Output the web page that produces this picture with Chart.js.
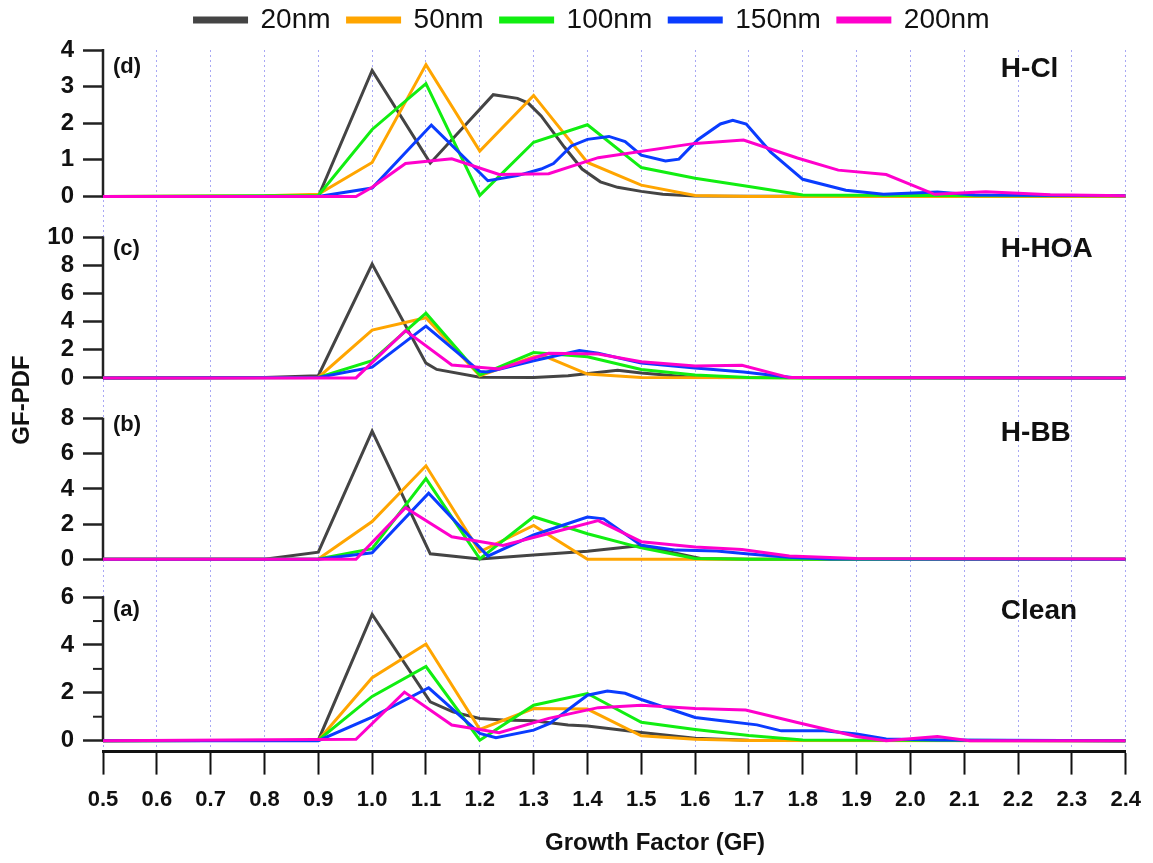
<!DOCTYPE html>
<html>
<head>
<meta charset="utf-8">
<script src="https://cdn.jsdelivr.net/npm/chart.js@4.4.1/dist/chart.umd.min.js"></script>
<style>
html,body{margin:0;padding:0;background:#ffffff;}
#wrap{width:1153px;height:863px;position:relative;}
</style>
</head>
<body>
<div id="wrap"><canvas id="chart" width="1153" height="863"></canvas></div>
<script>
// ---------------- DATA ----------------
const SIZES = ['20nm', '50nm', '100nm', '150nm', '200nm'];
const PANEL_NAMES = ['H-Cl', 'H-HOA', 'H-BB', 'Clean'];
const PANEL_TAGS = ['(d)', '(c)', '(b)', '(a)'];
const GF_TICKS = [0.5, 0.6, 0.7, 0.8, 0.9, 1.0, 1.1, 1.2, 1.3, 1.4, 1.5, 1.6, 1.7, 1.8, 1.9, 2.0, 2.1, 2.2, 2.3, 2.4];
const YTICKS_D = [0, 1, 2, 3, 4];
const YTICKS_C = [0, 2, 4, 6, 8, 10];
const YTICKS_B = [0, 2, 4, 6, 8];
const YTICKS_A = [0, 2, 4, 6];
const YMINOR_A = [1, 3, 5];

// Panel (d) H-Cl : [GF, GF-PDF]
const HCl_20nm  = [[0.5,0],[0.9,0],[1.0,3.44],[1.108,0.91],[1.225,2.78],[1.27,2.68],[1.29,2.55],[1.314,2.2],[1.357,1.35],[1.39,0.75],[1.424,0.4],[1.456,0.25],[1.5,0.14],[1.54,0.06],[1.6,0.01],[2.4,0]];
const HCl_50nm  = [[0.5,0],[0.8,0.02],[0.9,0.06],[1.0,0.93],[1.1,3.6],[1.2,1.24],[1.3,2.76],[1.4,0.93],[1.5,0.31],[1.6,0.03],[1.7,0],[2.4,0]];
const HCl_100nm = [[0.5,0],[0.9,0.03],[1.0,1.83],[1.1,3.08],[1.2,0.03],[1.3,1.48],[1.4,1.96],[1.5,0.79],[1.6,0.5],[1.7,0.27],[1.8,0.04],[2.0,0.03],[2.4,0.02]];
const HCl_150nm = [[0.5,0],[0.9,0],[1.0,0.23],[1.11,1.95],[1.215,0.43],[1.27,0.57],[1.314,0.75],[1.337,0.9],[1.37,1.38],[1.4,1.56],[1.44,1.64],[1.47,1.5],[1.5,1.13],[1.545,0.97],[1.57,1.02],[1.605,1.55],[1.647,1.98],[1.67,2.08],[1.695,1.98],[1.74,1.22],[1.8,0.47],[1.88,0.17],[1.95,0.06],[2.05,0.12],[2.12,0.04],[2.4,0.02]];
const HCl_200nm = [[0.5,0],[0.97,0],[1.0,0.25],[1.062,0.9],[1.148,1.03],[1.236,0.6],[1.328,0.62],[1.42,1.06],[1.6,1.45],[1.69,1.54],[1.79,1.05],[1.866,0.72],[1.955,0.6],[2.045,0.06],[2.14,0.13],[2.26,0.05],[2.4,0.02]];

// Panel (c) H-HOA
const HHOA_20nm  = [[0.5,0],[0.8,0.02],[0.9,0.15],[1.0,8.1],[1.1,1.05],[1.12,0.6],[1.2,0.05],[1.3,0.02],[1.364,0.15],[1.456,0.55],[1.5,0.35],[1.6,0.02],[2.4,0]];
const HHOA_50nm  = [[0.5,0],[0.9,0.03],[1.0,3.4],[1.1,4.28],[1.2,0.15],[1.3,1.5],[1.32,1.55],[1.4,0.27],[1.5,0.02],[2.4,0]];
const HHOA_100nm = [[0.5,0],[0.9,0.03],[1.0,1.22],[1.1,4.6],[1.2,0.2],[1.3,1.8],[1.4,1.5],[1.5,0.6],[1.6,0.2],[1.7,0.03],[1.8,0],[2.4,0]];
const HHOA_150nm = [[0.5,0],[0.9,0.02],[1.0,0.76],[1.1,3.68],[1.2,0.46],[1.215,0.42],[1.3,1.22],[1.385,1.95],[1.42,1.75],[1.5,1.05],[1.6,0.7],[1.69,0.42],[1.78,0.02],[2.4,0]];
const HHOA_200nm = [[0.5,0],[0.97,0],[1.062,3.36],[1.148,0.92],[1.236,0.64],[1.328,1.75],[1.42,1.7],[1.5,1.15],[1.6,0.85],[1.687,0.9],[1.775,0.02],[2.4,0]];

// Panel (b) H-BB
const HBB_20nm  = [[0.5,0],[0.8,0],[0.9,0.4],[1.0,7.3],[1.108,0.31],[1.2,0.02],[1.3,0.24],[1.4,0.46],[1.5,0.78],[1.54,0.5],[1.61,0.05],[1.7,0],[2.4,0]];
const HBB_50nm  = [[0.5,0],[0.9,0.02],[1.0,2.15],[1.1,5.32],[1.2,0.42],[1.3,1.93],[1.4,0],[2.4,0]];
const HBB_100nm = [[0.5,0],[0.9,0.02],[1.0,0.6],[1.1,4.59],[1.2,0.02],[1.3,2.42],[1.4,1.45],[1.5,0.65],[1.6,0.05],[1.7,0],[2.4,0]];
const HBB_150nm = [[0.5,0],[0.9,0],[1.0,0.37],[1.105,3.76],[1.215,0.18],[1.3,1.38],[1.4,2.4],[1.43,2.3],[1.5,0.8],[1.565,0.52],[1.64,0.47],[1.7,0.3],[1.78,0.1],[1.85,0.02],[2.4,0]];
const HBB_200nm = [[0.5,0],[0.97,0],[1.062,2.94],[1.148,1.28],[1.243,0.79],[1.328,1.47],[1.42,2.2],[1.5,1.0],[1.6,0.7],[1.687,0.55],[1.775,0.18],[1.9,0.05],[2.4,0.02]];

// Panel (a) Clean
const Clean_20nm  = [[0.5,0],[0.9,0.02],[1.0,5.28],[1.108,1.62],[1.15,1.2],[1.2,0.93],[1.243,0.86],[1.3,0.83],[1.364,0.65],[1.4,0.61],[1.47,0.42],[1.5,0.34],[1.6,0.1],[1.7,0.02],[2.4,0]];
const Clean_50nm  = [[0.5,0],[0.9,0.02],[1.0,2.63],[1.1,4.04],[1.2,0.47],[1.3,1.34],[1.4,1.32],[1.5,0.2],[1.6,0.06],[1.7,0.01],[2.4,0]];
const Clean_100nm = [[0.5,0],[0.9,0.02],[1.0,1.85],[1.1,3.1],[1.2,0.02],[1.3,1.48],[1.4,1.97],[1.5,0.77],[1.6,0.47],[1.7,0.22],[1.8,0.03],[2.4,0]];
const Clean_150nm = [[0.5,0],[0.9,0],[1.0,0.98],[1.105,2.21],[1.2,0.3],[1.23,0.12],[1.3,0.44],[1.33,0.72],[1.4,1.9],[1.437,2.07],[1.47,1.98],[1.5,1.72],[1.6,0.97],[1.65,0.83],[1.715,0.66],[1.76,0.41],[1.84,0.41],[1.9,0.28],[1.955,0.07],[2.05,0.03],[2.4,0]];
const Clean_200nm = [[0.5,0],[0.97,0.06],[1.06,2.03],[1.148,0.65],[1.236,0.33],[1.328,0.93],[1.42,1.38],[1.5,1.48],[1.6,1.34],[1.694,1.28],[1.79,0.76],[1.9,0.17],[1.955,0],[2.05,0.17],[2.11,0],[2.4,0]];

// ---------------- STYLE / LAYOUT ----------------
const COLORS = ['#444444', '#FFA500', '#11EE11', '#0A3CFF', '#FF00CC'];
const FONT = "'Liberation Sans', Arial, sans-serif";
const AXIS_IDS = ['yd', 'yc', 'yb', 'ya'];
const AXIS_TICKS = [YTICKS_D, YTICKS_C, YTICKS_B, YTICKS_A];
const AXIS_MAX = [4, 10, 8, 6];
const AXIS_MIN = [-1.116, -2.908, -2.156, -0.458];   // gap below each panel
const AXIS_STACKW = [188, 182, 179, 155];
const TAG_Y = [3.54, 9.2, 7.66, 5.46];
const NAME_Y = [3.48, 9.15, 7.2, 5.42];

const PANEL_SERIES = [
  [HCl_20nm, HCl_50nm, HCl_100nm, HCl_150nm, HCl_200nm],
  [HHOA_20nm, HHOA_50nm, HHOA_100nm, HHOA_150nm, HHOA_200nm],
  [HBB_20nm, HBB_50nm, HBB_100nm, HBB_150nm, HBB_200nm],
  [Clean_20nm, Clean_50nm, Clean_100nm, Clean_150nm, Clean_200nm]
];

const datasets = [];
PANEL_SERIES.forEach((series, p) => {
  series.forEach((pts, s) => {
    datasets.push({
      label: SIZES[s],
      data: pts.map(([x, y]) => ({x, y})),
      yAxisID: AXIS_IDS[p],
      borderColor: COLORS[s],
      backgroundColor: COLORS[s],
      borderWidth: 3,
      pointRadius: 0,
      tension: 0,
      order: 5 - s
    });
  });
});

const scales = {
  x: {
    type: 'linear', position: 'bottom', min: 0.5, max: 2.4,
    afterBuildTicks: (s) => { s.ticks = GF_TICKS.map(v => ({value: v})); },
    ticks: {
      autoSkip: false, maxRotation: 0, padding: 12, color: '#111',
      font: {family: FONT, size: 22, weight: 'bold'},
      callback: (v) => Number(v).toFixed(1)
    },
    grid: {
      display: true, drawOnChartArea: true, drawTicks: true,
      color: '#a8a8f4', lineWidth: 1,
      tickColor: '#111', tickWidth: 2, tickLength: 23, tickBorderDash: []
    },
    border: {display: true, color: '#111', width: 3, dash: [2, 3]}
  }
};
AXIS_IDS.forEach((id, i) => {
  scales[id] = {
    type: 'linear', position: 'left', stack: 'panels', stackWeight: AXIS_STACKW[i],
    weight: 4 - i, min: AXIS_MIN[i], max: AXIS_MAX[i], offset: false,
    afterBuildTicks: (s) => { s.ticks = AXIS_TICKS[i].map(v => ({value: v})); },
    afterFit: (s) => { s.width = 83; },
    ticks: {
      autoSkip: false, padding: 9, color: '#111',
      font: {family: FONT, size: 24, weight: 'bold'}
    },
    grid: {
      display: true, drawOnChartArea: false, drawTicks: true,
      tickLength: 20, tickWidth: 2.5, tickColor: '#222', color: '#222'
    },
    border: {display: false}
  };
});

const panelDecor = {
  id: 'panelDecor',
  afterLayout(chart) {
    const lg = chart.legend;
    if (lg) { lg.top -= 6; lg.bottom -= 6; lg.left += 18; lg.right += 18; }
  },
  beforeDatasetsDraw(chart) {
    const ctx = chart.ctx, area = chart.chartArea;
    ctx.save();
    ctx.strokeStyle = '#222';
    ctx.lineWidth = 2.5;
    AXIS_IDS.forEach((id, i) => {
      const s = chart.scales[id];
      ctx.beginPath();
      ctx.moveTo(area.left, s.getPixelForValue(AXIS_MAX[i]) - 1);
      ctx.lineTo(area.left, s.getPixelForValue(0) + 1);
      ctx.stroke();
    });
    const sa = chart.scales.ya;
    ctx.lineWidth = 2;
    YMINOR_A.forEach(v => {
      const y = sa.getPixelForValue(v);
      ctx.beginPath(); ctx.moveTo(area.left - 10, y); ctx.lineTo(area.left, y); ctx.stroke();
    });
    ctx.restore();
  },
  afterDraw(chart) {
    const ctx = chart.ctx, area = chart.chartArea, xs = chart.scales.x;
    ctx.save();
    ctx.fillStyle = '#111';
    ctx.textBaseline = 'middle';
    AXIS_IDS.forEach((id, i) => {
      const s = chart.scales[id];
      ctx.textAlign = 'left';
      ctx.font = 'bold 22px ' + FONT;
      ctx.fillText(PANEL_TAGS[i], area.left + 10, s.getPixelForValue(TAG_Y[i]));
      ctx.font = 'bold 28px ' + FONT;
      ctx.fillText(PANEL_NAMES[i], xs.getPixelForValue(2.168), s.getPixelForValue(NAME_Y[i]));
    });
    // axis titles
    ctx.font = 'bold 24px ' + FONT;
    ctx.textAlign = 'center';
    ctx.fillText('Growth Factor (GF)', 655, 843);
    ctx.translate(22, 400);
    ctx.rotate(-Math.PI / 2);
    ctx.fillText('GF-PDF', 0, 0);
    ctx.restore();
  }
};

new Chart(document.getElementById('chart'), {
  type: 'line',
  data: {datasets},
  options: {
    responsive: false,
    animation: false,
    devicePixelRatio: 1,
    layout: {padding: {left: 20, right: 25, top: -5, bottom: 38}},
    plugins: {
      tooltip: {enabled: false},
      legend: {
        display: true, position: 'top', align: 'center',
        labels: {
          filter: (item) => item.datasetIndex < 5,
          sort: (a, b) => a.datasetIndex - b.datasetIndex,
          boxWidth: 52, boxHeight: 4, padding: 17, color: '#111',
          font: {family: FONT, size: 28}
        }
      }
    },
    scales
  },
  plugins: [panelDecor]
});
</script>
</body>
</html>
